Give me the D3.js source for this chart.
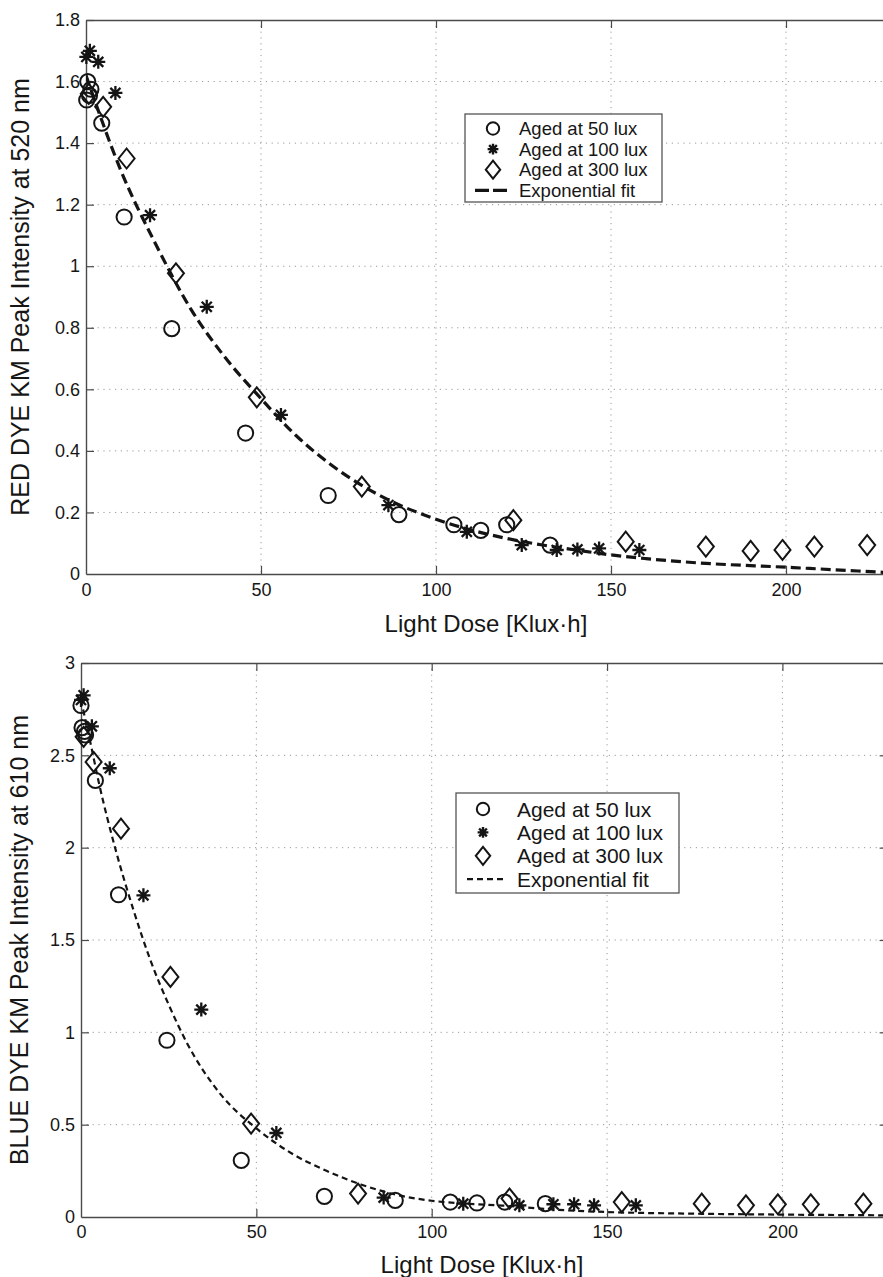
<!DOCTYPE html>
<html>
<head>
<meta charset="utf-8">
<script src="https://cdn.jsdelivr.net/npm/d3@7"></script>
<style>
  html, body { margin: 0; padding: 0; background: #fff; }
  svg { display: block; }
  text { font-family: "Liberation Sans", Arial, Helvetica, sans-serif; fill: #161616; }
</style>
</head>
<body>
<svg id="fig" width="883" height="1277"></svg>
<script>
// ---- tick values and labels ----
const doseTicks = [0, 50, 100, 150, 200];
const doseTickLabels = ["0", "50", "100", "150", "200"];
const redTicks = [0, 0.2, 0.4, 0.6, 0.8, 1, 1.2, 1.4, 1.6, 1.8];
const redTickLabels = ["0", "0.2", "0.4", "0.6", "0.8", "1", "1.2", "1.4", "1.6", "1.8"];
const blueTicks = [0, 0.5, 1, 1.5, 2, 2.5, 3];
const blueTickLabels = ["0", "0.5", "1", "1.5", "2", "2.5", "3"];
const seriesNames = ["Aged at 50 lux", "Aged at 100 lux", "Aged at 300 lux", "Exponential fit"];

// ---- RED dye, KM peak at 520 nm: [light dose (Klux·h), intensity] ----
const red50 = [[0.2,1.54],[0.5,1.60],[1.4,1.575],[1.0,1.555],[4.5,1.465],[10.9,1.16],[24.5,0.797],
  [45.6,0.458],[69.2,0.255],[89.4,0.193],[105.1,0.16],[112.8,0.142],[120.2,0.16],[132.6,0.094]];
const red100 = [[0.1,1.68],[1.1,1.70],[3.5,1.664],[8.4,1.563],[18.3,1.166],[34.5,0.868],[55.7,0.517],
  [86.4,0.224],[108.8,0.137],[124.5,0.094],[134.5,0.078],[140.4,0.08],[146.6,0.083],[158.1,0.078]];
const red300 = [[0.8,1.56],[4.9,1.518],[11.6,1.35],[25.7,0.977],[48.8,0.574],[78.8,0.284],[122.1,0.175],
  [154.2,0.105],[177.1,0.089],[189.9,0.075],[199.0,0.078],[208.1,0.089],[223.2,0.094]];
const redFit = [[0,1.62],[10,1.31],[20,1.07],[30,0.86],[40,0.70],[50,0.57],[60,0.45],[70,0.355],
  [80,0.28],[90,0.222],[100,0.178],[110,0.143],[120,0.116],[130,0.095],[140,0.078],[150,0.062],
  [160,0.05],[175,0.036],[200,0.022],[230,0.004]];

// ---- BLUE dye, KM peak at 610 nm ----
const blue50 = [[0,2.77],[0.3,2.65],[1.0,2.63],[1.3,2.61],[4.1,2.364],[10.7,1.745],[24.5,0.957],
  [45.7,0.307],[69.4,0.112],[89.6,0.09],[105.3,0.081],[112.9,0.076],[120.8,0.081],[132.4,0.072]];
const blue100 = [[0,2.80],[0.75,2.825],[3.1,2.657],[8.2,2.43],[17.8,1.742],[34.3,1.123],[55.7,0.455],
  [86.3,0.105],[109.0,0.072],[125.0,0.063],[134.7,0.069],[140.6,0.069],[146.3,0.063],[158.2,0.063]];
const blue300 = [[0.75,2.6],[3.6,2.464],[11.4,2.103],[25.5,1.3],[48.5,0.506],[79.0,0.127],[122.2,0.1],
  [154.2,0.081],[177.0,0.072],[189.6,0.063],[198.7,0.069],[208.1,0.069],[223.1,0.072]];
const blueFit = [[0,2.80],[3,2.54],[5,2.36],[10,1.98],[15,1.66],[20,1.38],[25,1.15],[30,0.95],
  [40,0.66],[50,0.48],[60,0.345],[70,0.25],[80,0.175],[90,0.12],[100,0.088],[110,0.072],
  [120,0.062],[135,0.04],[150,0.027],[175,0.018],[200,0.013],[230,0.009]];

const svg = d3.select("#fig");
const INK = "#141414";
const AXIS = "#4a4a4a";

// ---- marker shapes ----
function drawCircle(g, cx, cy, r, sw) {
  g.append("circle").attr("cx", cx).attr("cy", cy).attr("r", r)
    .attr("fill", "none").attr("stroke", INK).attr("stroke-width", sw);
}
function drawStar(g, cx, cy, s, sw) {
  const d = s * 0.72;
  const path = `M${cx - s},${cy}L${cx + s},${cy}M${cx},${cy - s}L${cx},${cy + s}` +
    `M${cx - d},${cy - d}L${cx + d},${cy + d}M${cx - d},${cy + d}L${cx + d},${cy - d}`;
  g.append("path").attr("d", path).attr("fill", "none")
    .attr("stroke", INK).attr("stroke-width", sw).attr("stroke-linecap", "butt");
}
function drawDiamond(g, cx, cy, w, h, sw) {
  const path = `M${cx},${cy - h}L${cx + w},${cy}L${cx},${cy + h}L${cx - w},${cy}Z`;
  g.append("path").attr("d", path).attr("fill", "none")
    .attr("stroke", INK).attr("stroke-width", sw).attr("stroke-linejoin", "miter");
}

function drawPanel(p) {
  const x = d3.scaleLinear().domain([0, 230]).range([p.left, p.left + p.pxPerUnit * 230]);
  const y = d3.scaleLinear().domain(p.yDomain).range([p.bottom, p.top]);
  const right = x(230);
  const g = svg.append("g");

  const clipId = "clip-" + p.id;
  svg.append("clipPath").attr("id", clipId).append("rect")
    .attr("x", p.left).attr("y", p.top).attr("width", right - p.left).attr("height", p.bottom - p.top);

  // dotted grid
  const grid = g.append("g").attr("stroke", "#9a9a9a").attr("stroke-width", 1)
    .attr("stroke-dasharray", "1.2,4.6").attr("fill", "none");
  doseTicks.filter(d => d > 0).forEach(d => {
    grid.append("line").attr("x1", x(d)).attr("x2", x(d)).attr("y1", p.top).attr("y2", p.bottom);
  });
  p.yTicks.filter(d => d > p.yDomain[0] && d < p.yDomain[1]).forEach(d => {
    grid.append("line").attr("x1", p.left).attr("x2", right).attr("y1", y(d)).attr("y2", y(d));
  });

  // axes with inward ticks on all four sides
  const styleAxis = sel => {
    sel.select(".domain").attr("stroke", AXIS).attr("stroke-width", 1.4);
    sel.selectAll(".tick line").attr("stroke", AXIS).attr("stroke-width", 1.2);
    sel.selectAll(".tick text").attr("fill", "#161616")
      .style("font-family", '"Liberation Sans", Arial, sans-serif').style("font-size", p.tickFont + "px");
  };
  g.append("g").attr("transform", `translate(0,${p.bottom})`)
    .call(d3.axisBottom(x).tickValues(doseTicks).tickFormat((d, i) => doseTickLabels[i])
      .tickSizeInner(-8).tickSizeOuter(0).tickPadding(p.xPad))
    .call(styleAxis);
  g.append("g").attr("transform", `translate(0,${p.top})`)
    .call(d3.axisTop(x).tickValues(doseTicks).tickFormat("").tickSizeInner(-8).tickSizeOuter(0))
    .call(styleAxis);
  g.append("g").attr("transform", `translate(${p.left},0)`)
    .call(d3.axisLeft(y).tickValues(p.yTicks).tickFormat((d, i) => p.yTickLabels[i])
      .tickSizeInner(-8).tickSizeOuter(0).tickPadding(6))
    .call(styleAxis);
  g.append("g").attr("transform", `translate(${right},0)`)
    .call(d3.axisRight(y).tickValues(p.yTicks).tickFormat("").tickSizeInner(-8).tickSizeOuter(0))
    .call(styleAxis);
  g.selectAll(".tick").filter(d => d === 0).select("line").attr("stroke-opacity", 0);

  // exponential fit
  const line = d3.line().x(d => x(d[0])).y(d => y(d[1])).curve(d3.curveMonotoneX);
  g.append("path").datum(p.fit).attr("clip-path", `url(#${clipId})`)
    .attr("d", line).attr("fill", "none").attr("stroke", INK)
    .attr("stroke-width", p.fitWidth).attr("stroke-dasharray", p.fitDash);

  // data markers
  const mk = g.append("g");
  p.s50.forEach(d => drawCircle(mk, x(d[0]), y(d[1]), 7.6, 2));
  p.s100.forEach(d => drawStar(mk, x(d[0]), y(d[1]), 7, 2.3));
  p.s300.forEach(d => drawDiamond(mk, x(d[0]), y(d[1]), 8, 10, 2));

  // axis titles
  g.append("text").attr("x", p.xTitleX).attr("y", p.xTitleY).attr("text-anchor", "middle")
    .style("font-size", p.titleFont + "px").text("Light Dose [Klux·h]");
  g.append("text").attr("transform", `translate(${p.yTitleX},${(p.top + p.bottom) / 2}) rotate(-90)`)
    .attr("text-anchor", "middle").style("font-size", p.yTitleFont + "px").text(p.yTitle);

  // legend
  const L = p.legend;
  const lg = g.append("g");
  lg.append("rect").attr("x", L.x).attr("y", L.y).attr("width", L.w).attr("height", L.h)
    .attr("fill", "#fff").attr("stroke", "#555").attr("stroke-width", 1.3);
  seriesNames.forEach((name, i) => {
    const cy = L.y + L.first + i * L.step;
    if (i === 0) drawCircle(lg, L.sx, cy, 6.2, 2);
    if (i === 1) drawStar(lg, L.sx, cy, 5.4, 2.4);
    if (i === 2) drawDiamond(lg, L.sx, cy, 7.2, 9, 2);
    if (i === 3) lg.append("line").attr("x1", L.lx1).attr("x2", L.lx2).attr("y1", cy).attr("y2", cy)
      .attr("stroke", INK).attr("stroke-width", p.fitWidth).attr("stroke-dasharray", L.dash);
    lg.append("text").attr("x", L.tx).attr("y", cy).attr("dy", "0.36em")
      .style("font-size", L.font + "px").text(name);
  });
}

drawPanel({
  id: "red", left: 86, pxPerUnit: 3.5, top: 20, bottom: 574, yDomain: [0, 1.8],
  yTicks: redTicks, yTickLabels: redTickLabels, tickFont: 18, xPad: 9,
  titleFont: 24, yTitleFont: 25, xTitleX: 486, xTitleY: 632, yTitleX: 29,
  yTitle: "RED DYE KM Peak Intensity at 520 nm",
  fit: redFit, fitWidth: 3.2, fitDash: "10,5",
  s50: red50, s100: red100, s300: red300,
  legend: { x: 465, y: 114, w: 197, h: 88, first: 14.5, step: 20.6, sx: 493, tx: 519,
    lx1: 475, lx2: 507, dash: "14,4", font: 18.5 }
});

drawPanel({
  id: "blue", left: 81, pxPerUnit: 3.507, top: 663, bottom: 1217, yDomain: [0, 3],
  yTicks: blueTicks, yTickLabels: blueTickLabels, tickFont: 18, xPad: 8.5,
  titleFont: 24, yTitleFont: 25, xTitleX: 482, xTitleY: 1273, yTitleX: 28,
  yTitle: "BLUE DYE KM Peak Intensity at 610 nm",
  fit: blueFit, fitWidth: 2.2, fitDash: "6,4",
  s50: blue50, s100: blue100, s300: blue300,
  legend: { x: 456, y: 793, w: 223, h: 100, first: 16, step: 23.4, sx: 483, tx: 517,
    lx1: 467, lx2: 504, dash: "6,4", font: 21 }
});
</script>
</body>
</html>
